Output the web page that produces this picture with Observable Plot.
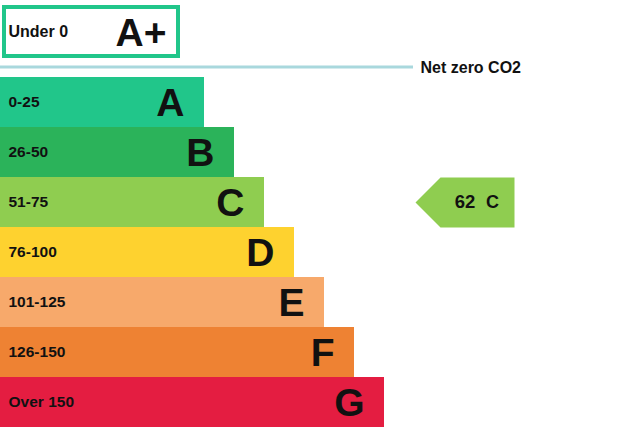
<!DOCTYPE html>
<html>
<head>
<meta charset="utf-8">
<script src="https://cdn.jsdelivr.net/npm/d3@7"></script>
<script src="https://cdn.jsdelivr.net/npm/@observablehq/plot@0.6"></script>
<style>
  html, body { margin: 0; padding: 0; background: #fff; }
  svg { display: block; }
</style>
</head>
<body>
<div id="chart"></div>
<script>
// ---- data ----
const ratings = ["A", "B", "C", "D", "E", "F", "G"];
const ranges = ["0-25", "26-50", "51-75", "76-100", "101-125", "126-150", "Over 150"];
const colors = ["#21c68a", "#2bb35a", "#8fcd50", "#fed22f", "#f7a96b", "#ee8233", "#e41d41"];
const topRating = "A+";
const topRange = "Under 0";
const topColor = "#21c68a";
const netZeroLabel = "Net zero CO2";
const currentScore = 62;
const currentRating = "C";

// ---- layout (pixels) ----
const W = 621, H = 445;
const rowH = 50, firstTop = 77;
const baseLen = 204, step = 30;
const font = "Liberation Sans, Arial, Helvetica, sans-serif";

const bars = ratings.map((r, i) => ({
  rating: r,
  range: ranges[i],
  color: colors[i],
  y1: firstTop + i * rowH,
  y2: firstTop + (i + 1) * rowH,
  yc: firstTop + (i + 0.5) * rowH,
  len: baseLen + i * step
}));

const ci = ratings.indexOf(currentRating);
const cur = bars[ci];
const arrowTip = 415, arrowShoulder = 440, arrowEnd = 514;
const arrow = [
  {x: arrowTip, y: cur.yc},
  {x: arrowShoulder, y: cur.y1},
  {x: arrowEnd, y: cur.y1},
  {x: arrowEnd, y: cur.y2},
  {x: arrowShoulder, y: cur.y2},
  {x: arrowTip, y: cur.yc}
];

const chart = Plot.plot({
  width: W,
  height: H,
  margin: 0,
  style: {fontFamily: font, background: "#fff"},
  x: {domain: [0, W], range: [0, W], axis: null},
  y: {domain: [0, H], range: [0, H], axis: null},
  color: {type: "identity"},
  marks: [
    // A+ box
    Plot.rect([{rating: topRating}], {x1: 4, x2: 178, y1: 7, y2: 56, fill: "white", stroke: topColor, strokeWidth: 4}),
    Plot.text([topRange], {x: 8, y: 31.5, text: d => d, textAnchor: "start", fontWeight: "bold", fontSize: 16, fill: "#111"}),
    Plot.text([topRating], {x: 166, y: 33, text: d => d, textAnchor: "end", fontWeight: "bold", fontSize: 39, fill: "#111"}),
    // net zero line
    Plot.ruleY([66.5], {x1: 0, x2: 413, stroke: "#a9d8dd", strokeWidth: 3}),
    Plot.text([netZeroLabel], {x: 420, y: 67, text: d => d, textAnchor: "start", fontWeight: "bold", fontSize: 16, fill: "#111"}),
    // bars
    Plot.rect(bars, {x1: 0, x2: "len", y1: "y1", y2: "y2", fill: "color"}),
    Plot.text(bars, {x: 8, y: "yc", text: "range", textAnchor: "start", fontWeight: "bold", fontSize: 15.5, fill: "#111"}),
    Plot.text(bars, {x: d => d.len - 20, y: d => d.yc + 1.5, text: "rating", textAnchor: "end", fontWeight: "bold", fontSize: 39, fill: "#111"}),
    // current arrow
    Plot.line(arrow, {x: "x", y: "y", fill: cur.color, stroke: "none"}),
    Plot.text([String(currentScore)], {x: 464.5, y: cur.yc, text: d => d, textAnchor: "middle", fontWeight: "bold", fontSize: 18.5, fill: "#111"}),
    Plot.text([currentRating], {x: 492, y: cur.yc, text: d => d, textAnchor: "middle", fontWeight: "bold", fontSize: 18, fill: "#111"})
  ]
});

document.getElementById("chart").appendChild(chart);
</script>
</body>
</html>
